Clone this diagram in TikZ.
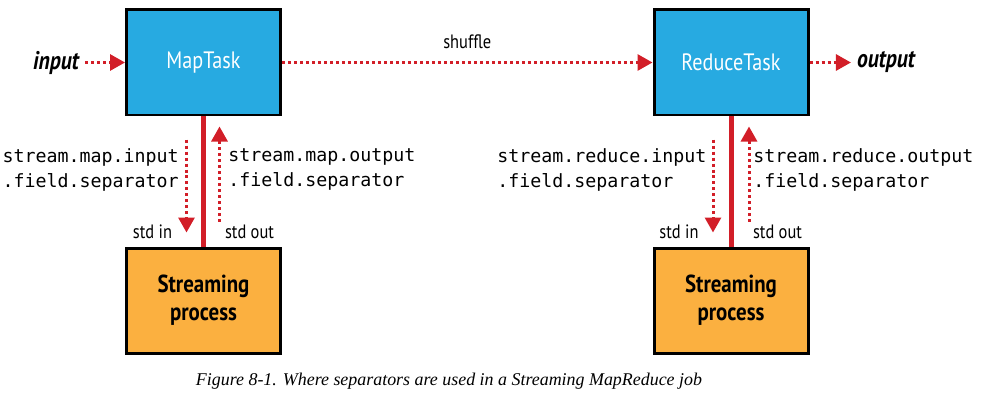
\documentclass[tikz,border=0pt]{standalone}
\usepackage{fontspec}
\setmainfont{Liberation Serif}
\setsansfont{PT Sans}
\setmonofont{DejaVu Sans Mono}
\newfontfamily\condfont[FakeStretch=0.85]{PT Sans}
\usepackage{xcolor}
\usetikzlibrary{arrows.meta,positioning}
\definecolor{taskcolor}{RGB}{39,170,225}
\definecolor{proccolor}{RGB}{251,176,64}
\definecolor{flowcolor}{RGB}{210,30,40}

\begin{document}
\begin{tikzpicture}[
    box/.style={rectangle, minimum width=3.08cm, minimum height=2.1cm, text centered, draw=black, line width=0.06cm, inner sep=0pt},
    taskbox/.style={box, fill=taskcolor, text=white, font=\condfont\fontsize{13.5}{15}\selectfont},
    procbox/.style={box, fill=proccolor, align=center, font=\condfont\bfseries\fontsize{14}{16}\selectfont},
    dotarrow/.style={draw=flowcolor, line width=0.06cm, dash pattern=on 0.06cm off 0.06cm, -{Triangle[width=0.32cm,length=0.3cm]}},
    pipe/.style={draw=flowcolor, line width=0.1cm},
    sep/.style={align=left, inner sep=0pt, font=\ttfamily\fontsize{10.4}{14.2}\selectfont},
    std/.style={inner sep=0pt, font=\condfont\fontsize{11}{12}\selectfont},
    endlabel/.style={font=\condfont\bfseries\itshape\fontsize{14.5}{16}\selectfont}
]
\useasboundingbox (0,0) rectangle (19.7,8.02);

% Tasks
\node[taskbox] (maptask) at (4.07,6.77) {MapTask};
\node[taskbox] (reducetask) at (14.62,6.77) {ReduceTask};

% Streaming processes
\node[procbox] (mapproc) at (4.07,2.01) {Streaming\\process};
\node[procbox] (reduceproc) at (14.62,2.01) {Streaming\\process};

% Job input and output
\node[endlabel] (input) at (1.12,6.77) {input};
\node[endlabel] (output) at (17.72,6.77) {output};

% Ends of the dotted std in/out arrows
\coordinate (mapin) at ([xshift=-0.34cm,yshift=-0.46cm]maptask.south);
\coordinate (mapinend) at ([xshift=-0.34cm,yshift=0.28cm]mapproc.north);
\coordinate (mapout) at ([xshift=0.32cm,yshift=0.5cm]mapproc.north);
\coordinate (mapoutend) at ([xshift=0.32cm,yshift=-0.2cm]maptask.south);
\coordinate (redin) at ([xshift=-0.36cm,yshift=-0.46cm]reducetask.south);
\coordinate (redinend) at ([xshift=-0.36cm,yshift=0.28cm]reduceproc.north);
\coordinate (redout) at ([xshift=0.36cm,yshift=0.5cm]reduceproc.north);
\coordinate (redoutend) at ([xshift=0.36cm,yshift=-0.2cm]reducetask.south);

% Arrows
\draw[dotarrow] (input) -- (maptask);
\draw[dotarrow] (maptask) -- node[above=0.12cm, font=\condfont\fontsize{11}{12}\selectfont] (shuffle) {shuffle} (reducetask);
\draw[dotarrow] (reducetask) -- (output);

\draw[pipe] (maptask) -- (mapproc);
\draw[pipe] (reducetask) -- (reduceproc);

\draw[dotarrow] (mapin) -- (mapinend);
\draw[dotarrow] (mapout) -- (mapoutend);
\draw[dotarrow] (redin) -- (redinend);
\draw[dotarrow] (redout) -- (redoutend);

% Separator labels
\node[sep, anchor=east] (mapinsep) at (3.58,4.63) {stream.map.input\\.field.separator};
\node[sep, anchor=west] (mapoutsep) at (4.56,4.63) {stream.map.output\\.field.separator};
\node[sep, anchor=west] (redinsep) at (9.94,4.63) {stream.reduce.input\\.field.separator};
\node[sep, anchor=west] (redoutsep) at (15.06,4.63) {stream.reduce.output\\.field.separator};

\node[std] (mapstdin) at (3.05,3.38) {std in};
\node[std] (mapstdout) at (4.99,3.38) {std out};
\node[std] (redstdin) at (13.58,3.38) {std in};
\node[std] (redstdout) at (15.55,3.38) {std out};

% Caption
\node[font=\itshape\fontsize{10.2}{12}\selectfont] (caption) at (8.98,0.4) {Figure 8-1. Where separators are used in a Streaming MapReduce job};

\end{tikzpicture}
\end{document}
